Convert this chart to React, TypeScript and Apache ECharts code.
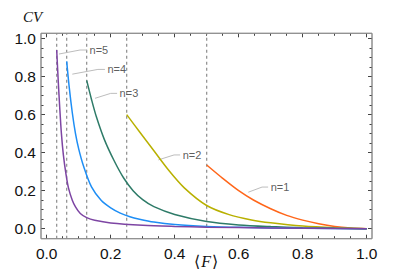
import React, { useEffect, useRef } from "react";
import * as echarts from "echarts";

const SERIES_NAMES = ["n=1", "n=2", "n=3", "n=4", "n=5"];
const SERIES_COLORS = ["#FF661A", "#B8B000", "#2E7B68", "#1E8EF5", "#7D45A3"];

const N1 = [[0.5, 0.335], [0.55, 0.265], [0.6, 0.2], [0.646, 0.151], [0.7, 0.105], [0.75, 0.07], [0.8, 0.045], [0.85, 0.026], [0.9, 0.012], [0.95, 0.004], [1, 0]];
const N2 = [[0.25, 0.6], [0.29, 0.51], [0.335, 0.41], [0.38, 0.31], [0.43, 0.215], [0.5, 0.122], [0.57, 0.074], [0.64, 0.046], [0.7, 0.031], [0.8, 0.014], [0.9, 0.005], [1, 0]];
const N3 = [[0.125, 0.78], [0.14, 0.68], [0.155, 0.59], [0.18, 0.47], [0.21, 0.36], [0.24, 0.268], [0.27, 0.2], [0.3, 0.153], [0.335, 0.116], [0.4, 0.075], [0.5, 0.038], [0.6, 0.02], [0.7, 0.011], [0.8, 0.005], [0.9, 0.002], [1, 0]];
const N4 = [[0.0625, 0.88], [0.07, 0.75], [0.08, 0.61], [0.09, 0.5], [0.1, 0.42], [0.115, 0.33], [0.14, 0.22], [0.17, 0.15], [0.2, 0.11], [0.23, 0.082], [0.26, 0.063], [0.29, 0.05], [0.335, 0.035], [0.4, 0.022], [0.5, 0.012], [0.6, 0.007], [0.8, 0.002], [1, 0]];
const N5 = [[0.03125, 0.94], [0.036, 0.78], [0.041, 0.63], [0.046, 0.5], [0.052, 0.39], [0.06, 0.29], [0.068, 0.215], [0.08, 0.15], [0.09, 0.115], [0.105, 0.08], [0.125, 0.058], [0.15, 0.044], [0.2, 0.03], [0.3, 0.018], [0.4, 0.012], [0.5, 0.008], [0.7, 0.004], [1, 0]];
const SERIES_DATA = [N1, N2, N3, N4, N5];

// dashed vertical lines at the starting points of the curves
const DASH_X = [0.03125, 0.0625, 0.125, 0.25, 0.5];

// callouts: [curve anchor, elbow, text end]
const CALLOUTS = [
  [[0.63, 0.192], [0.673, 0.219], [0.692, 0.219]],
  [[0.349, 0.362], [0.398, 0.388], [0.417, 0.388]],
  [[0.151, 0.686], [0.2, 0.712], [0.22, 0.712]],
  [[0.08, 0.813], [0.16, 0.838], [0.182, 0.838]],
  [[0.0384, 0.919], [0.104, 0.94], [0.126, 0.94]],
];

// tick labels: 0.0 .. 1.0 every 0.2, minor ticks every 0.05
const AXIS_START = 0;
const AXIS_END = 1;
const MAJOR_STEP = 0.2;
const MINOR_SPLIT = 4;

const X_MIN = -0.0178;
const X_MAX = 1.0166;
const Y_MIN = -0.0526;
const Y_MAX = 1.028;

const FRAME = "#8e8e8e";
const TICK = "#444444";
const LABEL_FONT = "'Liberation Sans', Arial, sans-serif";

const FRAME_BOX = { left: 41, top: 33.3, width: 331, height: 205.4 };
const XTICK_BOX = { left: 46.7, top: 33.3, width: 320, height: 205.4 };
const YTICK_BOX = { left: 41, top: 38.6, width: 331, height: 190.1 };

function tickAxis(position: string, gridIndex: number, labels: boolean, margin: number) {
  return {
    type: "value",
    gridIndex,
    min: AXIS_START,
    max: AXIS_END,
    interval: MAJOR_STEP,
    position,
    splitLine: { show: false },
    axisLine: { show: false },
    axisLabel: {
      show: labels,
      formatter: (v: number) => v.toFixed(1),
      color: "#111",
      fontSize: 15.5,
      fontFamily: LABEL_FONT,
      margin,
    },
    axisTick: { show: true, inside: true, length: 4, lineStyle: { color: TICK, width: 1 } },
    minorTick: { show: true, splitNumber: MINOR_SPLIT, length: 2.5, lineStyle: { color: TICK, width: 1 } },
  };
}

function hiddenAxis(gridIndex: number) {
  return { type: "value", gridIndex, min: AXIS_START, max: AXIS_END, show: false };
}

export default function App() {
  const ref = useRef<HTMLDivElement>(null);
  useEffect(() => {
    if (!ref.current) return;
    const chart = echarts.init(ref.current, undefined, { renderer: "svg" });

    const curveSeries = SERIES_DATA.map((d, i) => ({
      name: SERIES_NAMES[i],
      type: "line",
      xAxisIndex: 0,
      yAxisIndex: 0,
      data: d,
      smooth: 0.3,
      showSymbol: false,
      symbol: "none",
      lineStyle: { color: SERIES_COLORS[i], width: 1.5 },
      z: 3,
    }));

    const calloutLines = CALLOUTS.map((c, i) => ({
      name: "callout" + i,
      type: "line",
      xAxisIndex: 0,
      yAxisIndex: 0,
      data: c,
      symbol: "none",
      showSymbol: false,
      lineStyle: { color: "#bdbdbd", width: 1 },
      z: 2,
    }));

    const calloutLabels = {
      name: "callout labels",
      type: "scatter",
      xAxisIndex: 0,
      yAxisIndex: 0,
      data: CALLOUTS.map((c, i) => ({ value: c[c.length - 1], name: SERIES_NAMES[i] })),
      symbol: "circle",
      symbolSize: 1,
      itemStyle: { color: "rgba(0,0,0,0)" },
      label: {
        show: true,
        position: "right",
        distance: 2,
        formatter: (p: any) => p.name,
        color: "#333",
        fontSize: 11,
        fontFamily: LABEL_FONT,
      },
      z: 4,
    };

    const dashLines = DASH_X.map((x, i) => ({
      name: "dash" + i,
      type: "line",
      xAxisIndex: 0,
      yAxisIndex: 0,
      data: [[x, Y_MIN], [x, Y_MAX]],
      symbol: "none",
      showSymbol: false,
      lineStyle: { color: "#8c8c8c", type: [3, 3], width: 1.2 },
      z: 1,
    }));

    const dataAxis = (min: number, max: number) => ({
      type: "value",
      gridIndex: 0,
      min,
      max,
      splitLine: { show: false },
      axisLine: { show: false },
      axisTick: { show: false },
      axisLabel: { show: false },
    });

    chart.setOption({
      animation: false,
      backgroundColor: "#fff",
      grid: [
        { ...FRAME_BOX, containLabel: false, show: true, borderColor: FRAME, borderWidth: 1 },
        { ...XTICK_BOX, containLabel: false },
        { ...YTICK_BOX, containLabel: false },
      ],
      xAxis: [
        dataAxis(X_MIN, X_MAX),
        tickAxis("bottom", 1, true, 7),
        tickAxis("top", 1, false, 0),
        hiddenAxis(2),
      ],
      yAxis: [
        dataAxis(Y_MIN, Y_MAX),
        hiddenAxis(1),
        tickAxis("left", 2, true, 5),
        tickAxis("right", 2, false, 0),
      ],
      series: [...dashLines, ...curveSeries, ...calloutLines, calloutLabels],
      graphic: [
        {
          type: "rect",
          z: 10,
          silent: true,
          shape: { x: FRAME_BOX.left, y: FRAME_BOX.top, width: FRAME_BOX.width, height: FRAME_BOX.height },
          style: { fill: "none", stroke: FRAME, lineWidth: 1 },
        },
        {
          type: "text",
          left: 23,
          top: 9,
          style: {
            text: "CV",
            font: "italic 15px 'Liberation Serif', 'Times New Roman', serif",
            fill: "#111",
          },
        },
        {
          type: "text",
          left: 194,
          top: 253,
          style: {
            text: "{a|⟨}{b|F}{a|⟩}",
            rich: {
              a: { font: "16px 'DejaVu Serif', serif", fill: "#111" },
              b: { font: "italic 16px 'Liberation Serif', serif", fill: "#111", padding: [0, 1, 0, 1] },
            },
          },
        },
      ],
    });
    return () => chart.dispose();
  }, []);
  return (
    <div
      ref={ref}
      style={{ position: "absolute", left: 0, top: 0, width: 407, height: 280, background: "#fff" }}
    />
  );
}
